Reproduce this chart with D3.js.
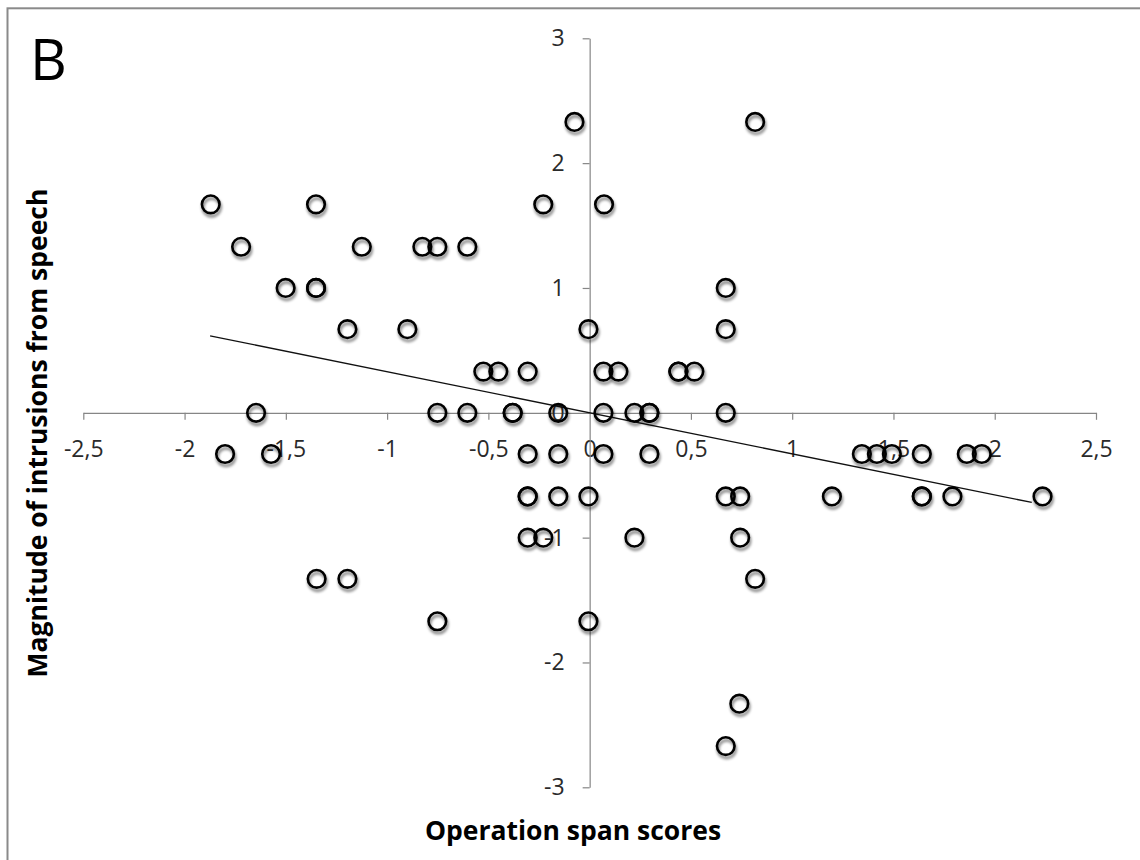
<!DOCTYPE html>
<html><head><meta charset="utf-8">
<script src="https://cdn.jsdelivr.net/npm/d3@7"></script>
<style>body{margin:0;background:#fff}</style>
</head><body>
<svg id="chart" width="1140" height="860"></svg>
<script>
// Operation span scores (x) and magnitude of intrusions from speech (y)
const operationSpan = [
  -0.075, 0.817,
  -1.871, -1.351, -0.229, 0.071,
  -1.721, -1.125, -0.826, -0.752, -0.604,
  -1.501, -1.351, -1.351, 0.672,
  -1.196, -0.900, -0.006, 0.672,
  -0.525, -0.451, -0.306, 0.068, 0.142, 0.438, 0.438, 0.517,
  -1.647, -0.752, -0.604, -0.380, -0.380, -0.155, 0.068, 0.221, 0.295, 0.295, 0.672,
  -1.800, -1.573, -0.306, -0.155, 0.068, 0.295, 1.344, 1.418, 1.492, 1.640, 1.862, 1.936,
  -0.306, -0.306, -0.155, -0.006, 0.672, 0.743, 1.196, 1.640, 1.640, 1.791, 2.236,
  -0.306, -0.229, 0.221, 0.743,
  -1.348, -1.196, 0.817,
  -0.752, -0.006,
  0.739,
  0.672
];
const intrusions = [
  2.33, 2.33,
  1.67, 1.67, 1.67, 1.67,
  1.33, 1.33, 1.33, 1.33, 1.33,
  1.00, 1.00, 1.00, 1.00,
  0.67, 0.67, 0.67, 0.67,
  0.33, 0.33, 0.33, 0.33, 0.33, 0.33, 0.33, 0.33,
  0, 0, 0, 0, 0, 0, 0, 0, 0, 0, 0,
  -0.33, -0.33, -0.33, -0.33, -0.33, -0.33, -0.33, -0.33, -0.33, -0.33, -0.33, -0.33,
  -0.67, -0.67, -0.67, -0.67, -0.67, -0.67, -0.67, -0.67, -0.67, -0.67, -0.67,
  -1.00, -1.00, -1.00, -1.00,
  -1.33, -1.33, -1.33,
  -1.67, -1.67,
  -2.33,
  -2.67
];
// Linear trendline
const trendX = [-1.874, 2.183];
const trendSlope = -0.329;
const trendIntercept = 0.0;

const xTicks = [-2.5, -2, -1.5, -1, -0.5, 0, 0.5, 1, 1.5, 2, 2.5];
const xTickLabels = ["-2,5", "-2", "-1,5", "-1", "-0,5", "0", "0,5", "1", "1,5", "2", "2,5"];
const yTicks = [-3, -2, -1, 0, 1, 2, 3];
const yTickLabels = ["-3", "-2", "-1", "0", "1", "2", "3"];

const panelLabel = "B";
const xTitle = "Operation span scores";
const yTitle = "Magnitude of intrusions from speech";

const svg = d3.select("#chart");
const font = "'Open Sans', Lato, sans-serif";

// frame (only left/top visible)
svg.append("rect").attr("x", 7.5).attr("y", 8.3).attr("width", 1300).attr("height", 1000)
  .attr("fill", "none").attr("stroke", "#8a8a8a").attr("stroke-width", 2);

const x = d3.scaleLinear().domain([-2.5, 2.5]).range([83.3, 1096]);
const y = d3.scaleLinear().domain([-3, 3]).range([787.3, 38.3]);

const defs = svg.append("defs");
const f = defs.append("filter").attr("id", "shadow").attr("x", "-50%").attr("y", "-50%").attr("width", "200%").attr("height", "200%");
f.append("feGaussianBlur").attr("in", "SourceAlpha").attr("stdDeviation", 1.8).attr("result", "b");
f.append("feOffset").attr("in", "b").attr("dx", 0.5).attr("dy", 3).attr("result", "o");
f.append("feComponentTransfer").attr("in", "o").attr("result", "s")
  .append("feFuncA").attr("type", "linear").attr("slope", 0.55);
const fm = f.append("feMerge");
fm.append("feMergeNode").attr("in", "s");
fm.append("feMergeNode").attr("in", "SourceGraphic");

// axes
const xAxis = svg.append("g").attr("transform", `translate(0,${y(0)})`)
  .call(d3.axisBottom(x).tickValues(xTicks).tickFormat((d, i) => xTickLabels[i])
    .tickSize(7).tickSizeOuter(0).tickPadding(21));
const yAxis = svg.append("g").attr("transform", `translate(${x(0)},0)`)
  .call(d3.axisLeft(y).tickValues(yTicks).tickFormat((d, i) => yTickLabels[i])
    .tickSize(7).tickSizeOuter(0).tickPadding(18));
[xAxis, yAxis].forEach(g => {
  g.select(".domain").attr("stroke", "#868686").attr("stroke-width", 1.2);
  g.selectAll(".tick line").attr("stroke", "#868686").attr("stroke-width", 1.2);
  g.selectAll(".tick text").attr("fill", "#2a2a2a").style("font-family", font).style("font-size", "23px");
});
xAxis.selectAll(".tick").filter(d => d === 0).select("line").remove();
yAxis.selectAll(".tick").filter(d => d === 0).select("line").remove();

// trendline
const line = d3.line().x(d => x(d)).y(d => y(trendIntercept + trendSlope * d));
svg.append("path").datum(trendX).attr("d", line)
  .attr("fill", "none").attr("stroke", "#111").attr("stroke-width", 1.3);

// points
const pts = operationSpan.map((v, i) => ({ x: v, y: intrusions[i] }));
svg.append("g").attr("filter", "url(#shadow)").selectAll("circle").data(pts).join("circle")
  .attr("cx", d => x(d.x)).attr("cy", d => y(d.y)).attr("r", 8.8)
  .attr("fill", "none").attr("stroke", "#000").attr("stroke-width", 2.6);

// titles
svg.append("text").attr("x", 30).attr("y", 80).text(panelLabel)
  .style("font-family", font).style("font-size", "57px").attr("fill", "#000");
svg.append("text").attr("x", 573).attr("y", 840).attr("text-anchor", "middle").text(xTitle)
  .style("font-family", font).style("font-size", "26.5px").style("font-weight", "bold").attr("fill", "#000");
svg.append("text").attr("transform", "translate(47,433) rotate(-90)").attr("text-anchor", "middle").text(yTitle)
  .style("font-family", font).style("font-size", "26.5px").style("font-weight", "bold").attr("fill", "#000");
</script>
</body></html>
